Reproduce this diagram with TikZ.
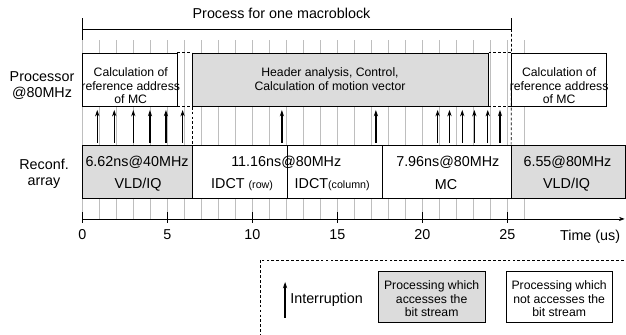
\documentclass[tikz,border=0pt]{standalone}
\usepackage{fontspec}
\setmainfont{Liberation Sans}
\usepackage{tikz}
\usetikzlibrary{arrows.meta, positioning, fit, calc}
\definecolor{streamgray}{RGB}{220,220,220}
\definecolor{gridgray}{RGB}{190,190,190}
\newcommand{\subfnt}{\fontsize{7.6}{9}\selectfont}

\begin{document}
\begin{tikzpicture}[
    x=0.425cm, y=0.025cm,
    box/.style={draw, line width=0.6pt, fill=white, inner sep=0pt},
    bitbox/.style={box, fill=streamgray},
    gapline/.style={line width=0.5pt, dash pattern=on 2pt off 1.5pt},
    gridln/.style={gridgray, line width=0.45pt},
    intr/.style={-{Stealth[length=4.5pt, width=3pt]}, line width=1pt},
    boxtxt/.style={font=\fontsize{8.7}{9.7}\selectfont, align=center, inner sep=0pt},
    ratetxt/.style={font=\fontsize{10.2}{12}\selectfont, inner sep=0pt},
    sidetxt/.style={font=\fontsize{10.2}{11.3}\selectfont, align=center, inner sep=0pt}
]
\useasboundingbox (-4.841,-116) rectangle (31.982,219);

\foreach \t in {0,...,26}
    \draw[gridln] (\t,0) -- (\t,179);

% one macroblock
\coordinate (brL) at (0,190);
\coordinate (brR) at (25.25,190);
\draw[line width=0.6pt] (0,179) -- (0,201);
\draw[line width=0.6pt] (brR) -- (25.25,201);
\draw[line width=0.6pt] (brL) -- (brR);
\node[ratetxt] (title) at (11.72,206) {Process for one macroblock};

% processor
\node[box, fit={(0,113) (5.57,166)}] (calc1) {};
\node[bitbox, fit={(6.47,113) (23.87,166)}] (header) {};
\node[box, fit={(25.25,113) (30.81,166)}] (calc2) {};
\node[boxtxt] (calc1txt) at (2.85,133) {Calculation of\\reference address\\of MC};
\node[boxtxt] (headtxt) at (14.57,140) {Header analysis, Control,\\Calculation of motion vector};
\node[boxtxt] (calc2txt) at (28.05,133) {Calculation of\\reference address\\of MC};

% reconf. array
\node[bitbox, fit={(0,21) (6.47,74)}] (vld1) {};
\node[box, fit={(6.47,21) (12.04,74)}] (idctr) {};
\node[box, fit={(12.04,21) (17.63,74)}] (idctc) {};
\node[box, fit={(17.63,21) (25.25,74)}] (mc) {};
\node[bitbox, fit={(25.25,21) (31.92,74)}] (vld2) {};

\node[ratetxt] (vld1rate) at (3.22,57) {6.62ns@40MHz};
\node[ratetxt] (vld1txt) at (3.28,34) {VLD/IQ};
\node[ratetxt] (idctrate) at (12.0,57) {11.16ns@80MHz};
\node[ratetxt] (idctrtxt) at (9.4,34) {IDCT {\subfnt(row)}};
\node[ratetxt] (idctctxt) at (14.7,34) {IDCT{\subfnt(column)}};
\node[ratetxt] (mcrate) at (21.5,57) {7.96ns@80MHz};
\node[ratetxt] (mctxt) at (21.4,34) {MC};
\node[ratetxt] (vld2rate) at (28.54,57) {6.55@80MHz};
\node[ratetxt] (vld2txt) at (28.49,34) {VLD/IQ};

\draw[gapline] (calc1.north east) -- (header.north west);
\draw[gapline] (calc1.south east) -- (header.south west);
\draw[gapline] (header.north east) -- (calc2.north west);
\draw[gapline] (header.south east) -- (calc2.south west);
\draw[gapline] (header.north west) -- (idctr.north west);
\draw[gapline] (brR) -- (vld2.north west);

\foreach \t in {0.88,1.88,3.0,3.98,4.92,5.9,11.74,17.27,20.9,21.6,22.35,23.06,23.85,24.57}
    \draw[intr] (\t,76) -- (\t,109);

\node[sidetxt] (proc) at (-2.37,133) {Processor\\@80MHz};
\node[sidetxt] (reconf) at (-2.25,45) {Reconf.\\array};

% time axis
\draw[line width=0.6pt, -{Stealth[length=4pt, width=3pt]}] (0,0) -- (31.9,0);
\foreach \t in {0,5,...,25} {
    \draw[line width=0.6pt] (\t,-4) -- (\t,7);
    \node[ratetxt] (tick\t) at (\t,-16) {\t};
}
\node[ratetxt] (timelbl) at (29.87,-18) {Time (us)};

% legend
\draw[gapline] (33,-41) -- (10.45,-41) -- (10.45,-120);
\draw[intr] (11.93,-99) -- (11.93,-63);
\node[ratetxt, anchor=west] (intrtxt) at (12.22,-81) {Interruption};
\node[bitbox, fit={(17.41,-104) (23.69,-52)}] (legbit) {};
\node[box, fit={(24.93,-104) (31.16,-52)}] (legnobit) {};
\node[boxtxt] (legbittxt) at (20.55,-80) {Processing which\\accesses the\\bit stream};
\node[boxtxt] (legnobittxt) at (28.05,-80) {Processing which\\not accesses the\\bit stream};

\end{tikzpicture}
\end{document}
